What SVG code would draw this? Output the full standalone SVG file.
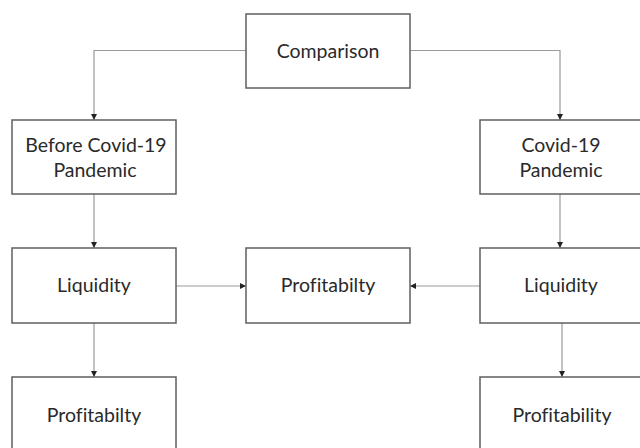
<svg xmlns="http://www.w3.org/2000/svg" width="640" height="448" viewBox="0 0 640 448">
<style>
.box{fill:#fff;stroke:#5f5f5f;stroke-width:1.5}
.lbl{font-family:Lato,"Open Sans",sans-serif;font-size:19.5px;fill:#2a2a2a;text-anchor:middle;font-variant-ligatures:none;font-feature-settings:"liga" 0}
.con{fill:none;stroke:#9a9a9a;stroke-width:1.2}
</style>
<defs>
<marker id="ah" viewBox="0 0 6 6" refX="6" refY="3" markerWidth="6" markerHeight="6" markerUnits="userSpaceOnUse" orient="auto">
<path d="M0,0 L6,3 L0,6 z" fill="#222"/>
</marker>
</defs>
<rect width="640" height="448" fill="#fff"/>
<g id="connectors">
<path class="con" d="M246,50.5 H94 V120" marker-end="url(#ah)"/>
<path class="con" d="M410,50.5 H560 V120" marker-end="url(#ah)"/>
<path class="con" d="M94,194 V248" marker-end="url(#ah)"/>
<path class="con" d="M560,194 V248" marker-end="url(#ah)"/>
<path class="con" d="M94,323 V377" marker-end="url(#ah)"/>
<path class="con" d="M562,323 V377" marker-end="url(#ah)"/>
<path class="con" d="M176,286 H246" marker-end="url(#ah)"/>
<path class="con" d="M480,286 H410" marker-end="url(#ah)"/>
</g>
<g id="comparison"><rect class="box" x="246" y="14" width="164" height="74"/><text class="lbl" x="328" y="57.5">Comparison</text></g>
<g id="before"><rect class="box" x="12" y="120" width="164" height="74"/><text class="lbl" x="96" y="151.5">Before Covid-19</text><text class="lbl" x="95" y="176.5">Pandemic</text></g>
<g id="covid"><rect class="box" x="480" y="120" width="163" height="74"/><text class="lbl" x="561" y="151.5">Covid-19</text><text class="lbl" x="561" y="176.5">Pandemic</text></g>
<g id="liq-left"><rect class="box" x="12" y="248" width="164" height="75"/><text class="lbl" x="94" y="292">Liquidity</text></g>
<g id="prof-center"><rect class="box" x="246" y="248" width="164" height="75"/><text class="lbl" x="328" y="292">Profitabilty</text></g>
<g id="liq-right"><rect class="box" x="480" y="248" width="163" height="75"/><text class="lbl" x="561" y="292">Liquidity</text></g>
<g id="prof-left"><rect class="box" x="12" y="377" width="164" height="75"/><text class="lbl" x="94" y="422">Profitabilty</text></g>
<g id="prof-right"><rect class="box" x="480" y="377" width="163" height="75"/><text class="lbl" x="562" y="422">Profitability</text></g>
</svg>
